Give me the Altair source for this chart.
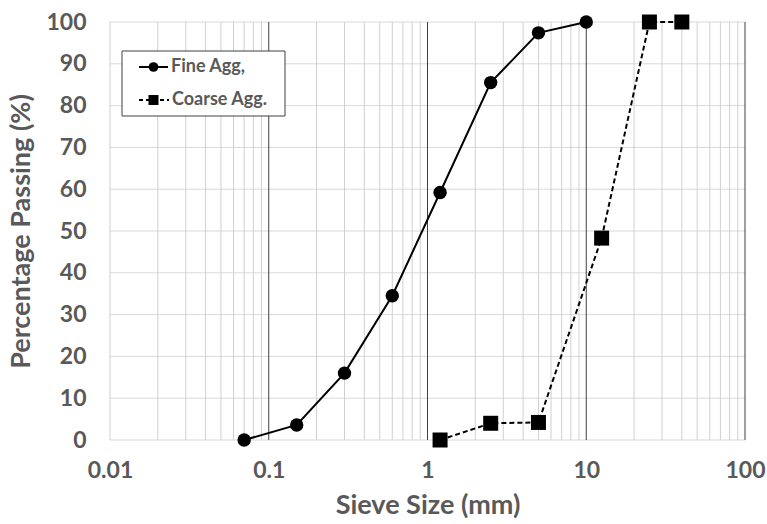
import altair as alt
import pandas as pd

# ---- data ----
fine_size = [0.07, 0.15, 0.3, 0.6, 1.2, 2.5, 5, 10]
fine_pass = [0, 3.6, 16.0, 34.5, 59.2, 85.5, 97.4, 100]
coarse_size = [1.2, 2.5, 5, 12.5, 25, 40]
coarse_pass = [0, 4.0, 4.2, 48.3, 100, 100]
series_names = ["Fine Agg,", "Coarse Agg."]
y_ticks = list(range(0, 101, 10))
x_major = [0.01, 0.1, 1, 10, 100]

TXT = "#595959"
FONT = "Lato"

fine_df = pd.DataFrame({"size": fine_size, "pass": fine_pass})
coarse_df = pd.DataFrame({"size": coarse_size, "pass": coarse_pass})

minor = [k * d for d in x_major[:-1] for k in range(1, 10) if not (k == 1 and d != 0.01)]
minor_df = pd.DataFrame({"size": minor})
major_df = pd.DataFrame({"size": x_major[1:]})
hgrid_df = pd.DataFrame({"pass": y_ticks})

xs = alt.Scale(type="log", domain=[0.01, 100])
ys = alt.Scale(domain=[0, 100])

x_axis = alt.Axis(values=x_major, format="~g", grid=False, ticks=False, domain=False,
                  labelFont=FONT, labelFontSize=23, labelFontWeight="bold", labelColor=TXT,
                  labelPadding=19, title="Sieve Size (mm)", titleFont=FONT, titleFontSize=27,
                  titleFontWeight="bold", titleColor=TXT, titlePadding=10, labelFlush=False)
y_axis = alt.Axis(values=y_ticks, grid=False, ticks=False, domain=False,
                  labelFont=FONT, labelFontSize=23, labelFontWeight="bold", labelColor=TXT,
                  labelPadding=24, title="Percentage Passing (%)", titleFont=FONT, titleFontSize=27,
                  titleFontWeight="bold", titleColor=TXT, titlePadding=10)

X = lambda: alt.X("size:Q", scale=xs, axis=x_axis)
Y = lambda: alt.Y("pass:Q", scale=ys, axis=y_axis)

hgrid = alt.Chart(hgrid_df).mark_rule(color="#d9d9d9", strokeWidth=1).encode(y=Y())
vminor = alt.Chart(minor_df).mark_rule(color="#d0d0d0", strokeWidth=1).encode(x=X())
vmajor = alt.Chart(major_df).mark_rule(color="#404040", strokeWidth=1).encode(x=X())

fine_line = alt.Chart(fine_df).mark_line(color="black", strokeWidth=2).encode(x=X(), y=Y())
fine_pts = alt.Chart(fine_df).mark_point(shape="circle", filled=True, color="black",
                                         opacity=1, size=180).encode(x=X(), y=Y())
coarse_line = alt.Chart(coarse_df).mark_line(color="black", strokeWidth=2,
                                             strokeDash=[5, 3]).encode(x=X(), y=Y())
coarse_pts = alt.Chart(coarse_df).mark_point(shape="square", filled=True, color="black",
                                             opacity=1, size=225).encode(x=X(), y=Y())

# ---- legend box ----
one = pd.DataFrame({"a": [0]})
leg_box = alt.Chart(one).mark_rect(fill="white", stroke="#404040", strokeWidth=1).encode(
    x=alt.value(12), x2=alt.value(175), y=alt.value(29), y2=alt.value(94))
leg_l1 = alt.Chart(one).mark_rule(color="black", strokeWidth=2).encode(
    x=alt.value(29), x2=alt.value(58), y=alt.value(45))
leg_p1 = alt.Chart(one).mark_point(shape="circle", filled=True, color="black", opacity=1,
                                   size=95).encode(x=alt.value(43.5), y=alt.value(45))
leg_t1 = alt.Chart(one).mark_text(align="left", baseline="middle", font=FONT, fontSize=18,
                                  fontWeight="bold", color=TXT).encode(
    x=alt.value(61), y=alt.value(45), text=alt.value(series_names[0]))
leg_l2 = alt.Chart(one).mark_rule(color="black", strokeWidth=2, strokeDash=[4, 3]).encode(
    x=alt.value(29), x2=alt.value(59), y=alt.value(78))
leg_p2 = alt.Chart(one).mark_point(shape="square", filled=True, color="black", opacity=1,
                                   size=100).encode(x=alt.value(43.5), y=alt.value(78))
leg_t2 = alt.Chart(one).mark_text(align="left", baseline="middle", font=FONT, fontSize=18,
                                  fontWeight="bold", color=TXT).encode(
    x=alt.value(62), y=alt.value(78), text=alt.value(series_names[1]))

chart = alt.layer(
    hgrid, vminor, vmajor, fine_line, fine_pts, coarse_line, coarse_pts,
    leg_box, leg_l1, leg_p1, leg_t1, leg_l2, leg_p2, leg_t2
).properties(
    width=635, height=418,
    padding={"left": 110, "top": 22, "right": 22, "bottom": 84},
    autosize=alt.AutoSizeParams(type="none"),
    background="white",
).configure_view(stroke=None)

chart.save("out.html", embed_options={"renderer": "svg", "actions": False})
